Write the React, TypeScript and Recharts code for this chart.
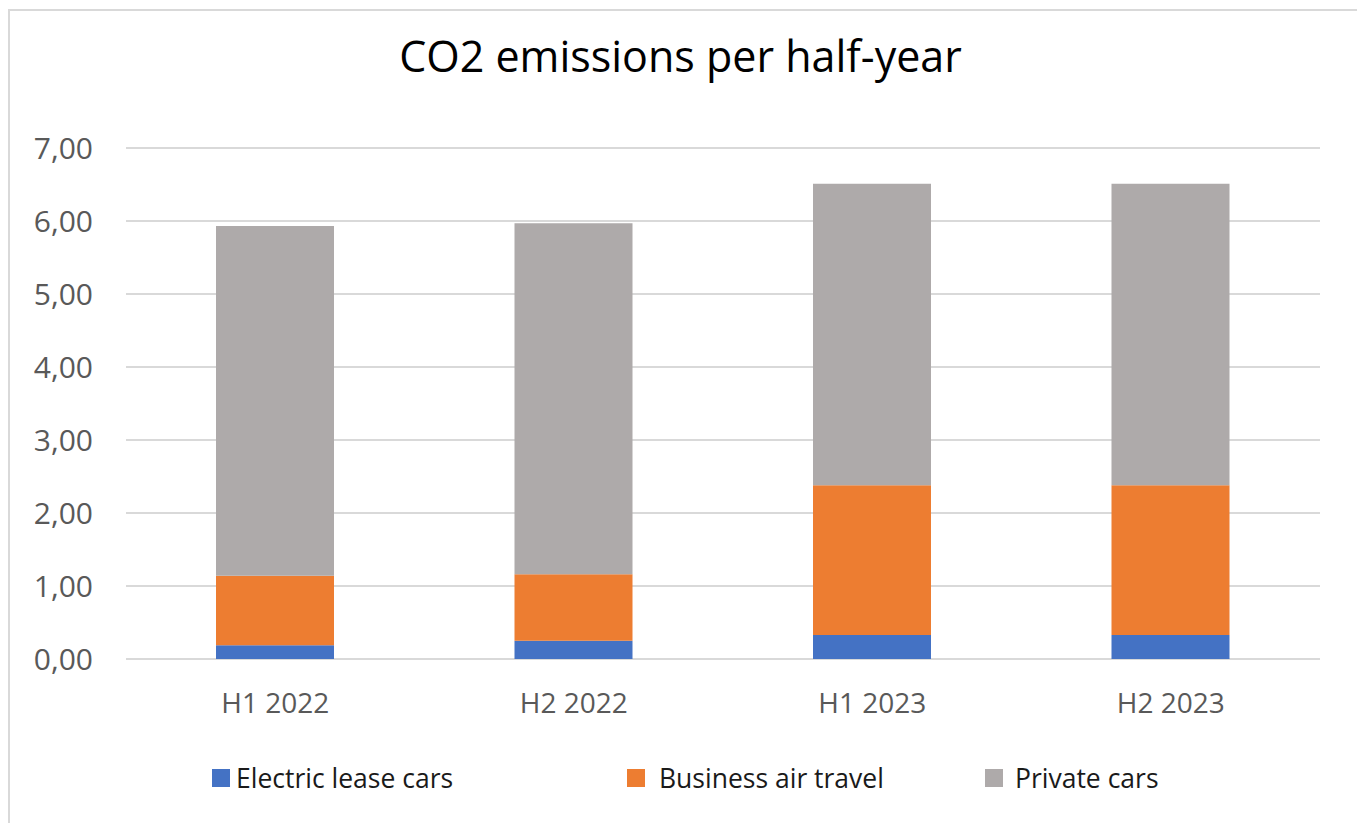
import React from 'react';
import { BarChart, Bar, XAxis, YAxis, CartesianGrid } from 'recharts';

const periods = ['H1 2022', 'H2 2022', 'H1 2023', 'H2 2023'];
const electricLeaseCars = [0.19, 0.25, 0.33, 0.33];
const businessAirTravel = [0.95, 0.91, 2.05, 2.05];
const privateCars = [4.79, 4.81, 4.13, 4.13];
const yTicks = [0, 1, 2, 3, 4, 5, 6, 7];

const series = [
  { key: 'electric', name: 'Electric lease cars', color: '#4472C4' },
  { key: 'air', name: 'Business air travel', color: '#ED7D31' },
  { key: 'private', name: 'Private cars', color: '#AEAAAA' },
];

const data = periods.map((p, i) => ({
  period: p,
  electric: electricLeaseCars[i],
  air: businessAirTravel[i],
  private: privateCars[i],
}));

const FONT = '"Open Sans", "Noto Sans", sans-serif';

const legendPos = [212, 627, 985];

export default function App() {
  return (
    <div
      style={{
        position: 'absolute',
        left: 0,
        top: 0,
        width: 1357,
        height: 823,
        background: '#fff',
        fontFamily: FONT,
        overflow: 'hidden',
      }}
    >
      <div
        style={{
          position: 'absolute',
          left: 8,
          top: 9,
          width: 1400,
          height: 900,
          borderLeft: '2px solid #d9d9d9',
          borderTop: '2px solid #d9d9d9',
        }}
      />
      <div
        style={{
          position: 'absolute',
          left: 0,
          top: 34,
          width: 1361,
          textAlign: 'center',
          fontSize: 43,
          lineHeight: '43px',
          color: '#000',
        }}
      >
        CO2 emissions per half-year
      </div>
      <div style={{ position: 'absolute', left: 0, top: 0 }}>
        <BarChart
          width={1357}
          height={823}
          data={data}
          margin={{ top: 148, right: 37, left: 0, bottom: 104 }}
        >
          <CartesianGrid vertical={false} stroke="#d9d9d9" strokeWidth={2} />
          <XAxis
            dataKey="period"
            height={60}
            axisLine={false}
            tickLine={false}
            tick={{ fill: '#595959', fontSize: 28, fontFamily: FONT }}
            tickMargin={28}
          />
          <YAxis
            width={126}
            domain={[0, 7]}
            ticks={yTicks}
            axisLine={false}
            tickLine={false}
            tickMargin={27}
            tickFormatter={(v: number) => v.toFixed(2).replace('.', ',')}
            tick={{ fill: '#595959', fontSize: 30, fontFamily: FONT }}
          />
          {series.map((s) => (
            <Bar
              key={s.key}
              dataKey={s.key}
              name={s.name}
              stackId="a"
              fill={s.color}
              barSize={118}
              isAnimationActive={false}
            />
          ))}
        </BarChart>
      </div>
      {series.map((s, i) => (
        <div
          key={s.key}
          style={{
            position: 'absolute',
            left: legendPos[i],
            top: 762,
            display: 'flex',
            alignItems: 'center',
            fontSize: 26.5,
            lineHeight: '32px',
            color: '#1a1a1a',
          }}
        >
          <span
            style={{
              display: 'inline-block',
              width: 18,
              height: 18,
              background: s.color,
              marginRight: s.key === 'electric' ? 6 : s.key === 'air' ? 14 : 12,
            }}
          />
          {s.name}
        </div>
      ))}
    </div>
  );
}
